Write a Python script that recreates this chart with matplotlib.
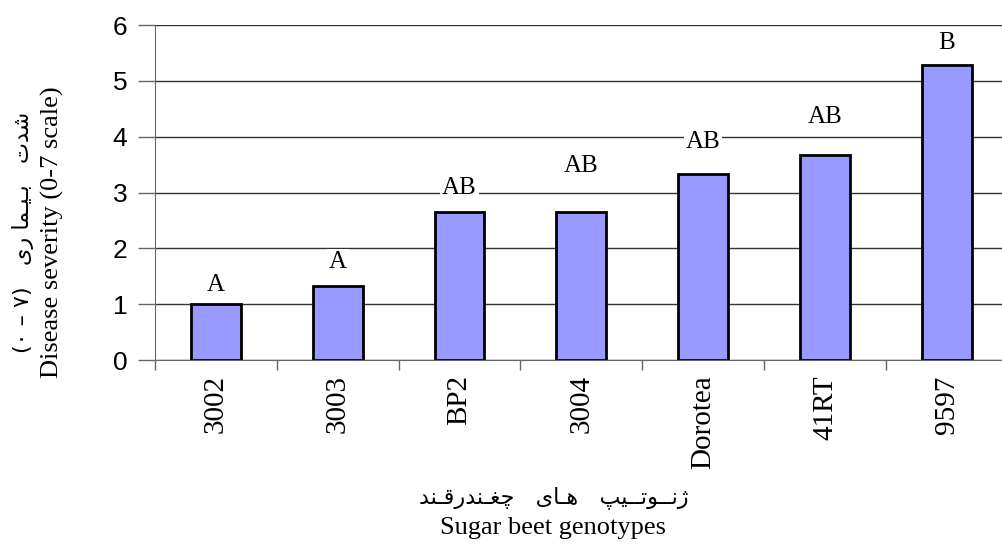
import matplotlib
matplotlib.use('Agg')
import matplotlib.pyplot as plt
import numpy as np

# genotypes and disease severity (0-7 scale)
genotypes = ['3002', '3003', 'BP2', '3004', 'Dorotea', '41RT', '9597']
severity = [1.0, 1.33, 2.65, 2.65, 3.33, 3.67, 5.28]
letters = ['A', 'A', 'AB', 'AB', 'AB', 'AB', 'B']
letter_y = [1.34, 1.76, 3.08, 3.47, 3.90, 4.35, 5.68]

# Persian labels, written in visual (left-to-right) order with presentation forms
fa_xlabel = ('\ufeaa\ufee8\u0640\ufed7\ufead\ufeaa\ufee8\u0640\ufed0\ufb7c   '
             '\ufbfc\ufe8e\u0640\ufeeb   '
             '\ufb57\ufbff\u0640\u0640\ufe97\ufeee\u0640\u0640\ufee7\ufb8a')
fa_ylabel = ('(\u06f0 \u2013 \u06f7)   \ufbfc\ufead \ufe8e\ufee4\u0640\ufbff\u0640\ufe91   '
             '\ufe95\ufeaa\ufeb7')
en_xlabel = 'Sugar beet genotypes'
en_ylabel = 'Disease severity (0-7 scale)'

fig = plt.figure(figsize=(10.02, 5.52), dpi=100)
ax = fig.add_axes([0.1547, 0.3478, 0.8509, 0.6069])

x = np.arange(len(genotypes))
ax.set_axisbelow(True)
ax.grid(True, axis='y', color='#333333', linewidth=1.0)
ax.bar(x, severity, width=0.41, color='#9999ff', edgecolor='black', linewidth=2, zorder=2)

for xi, lab, ly in zip(x, letters, letter_y):
    ax.text(xi, ly, lab, ha='center', va='center', fontsize=18, family='Liberation Serif',
            zorder=3, bbox=dict(facecolor='white', edgecolor='none', pad=1.5))

ax.set_xlim(-0.5, len(genotypes) - 0.5)
ax.set_ylim(0, 6)
ax.set_yticks(range(7))
ax.tick_params(axis='y', labelsize=19, length=12, width=1, color='#666666', pad=8)
for t in ax.get_yticklabels():
    t.set_family('Liberation Sans')

ax.set_xticks(x)
ax.set_xticklabels(genotypes, rotation=90, fontsize=21, family='Liberation Serif')
ax.tick_params(axis='x', which='major', length=0, pad=11)
ax.set_xticks(np.arange(len(genotypes) + 1) - 0.5, minor=True)
ax.tick_params(axis='x', which='minor', length=7, width=1, color='#666666')

for s in ['top', 'right']:
    ax.spines[s].set_visible(False)
ax.spines['left'].set_color('#666666')
ax.spines['bottom'].set_color('#666666')

fig.text(0.553, 1 - 498 / 552, fa_xlabel, ha='center', va='center', fontsize=16,
         family=['DejaVu Sans'])
fig.text(0.552, 1 - 528 / 552, en_xlabel, ha='center', va='center', fontsize=19,
         family='Liberation Serif')
fig.text(23 / 1002, 1 - 232 / 552, fa_ylabel, ha='center', va='center', rotation=90,
         fontsize=16, family=['DejaVu Sans'])
fig.text(52 / 1002, 1 - 232 / 552, en_ylabel, ha='center', va='center', rotation=90,
         fontsize=19, family='Liberation Serif')

fig.savefig('out.png', dpi=100)
